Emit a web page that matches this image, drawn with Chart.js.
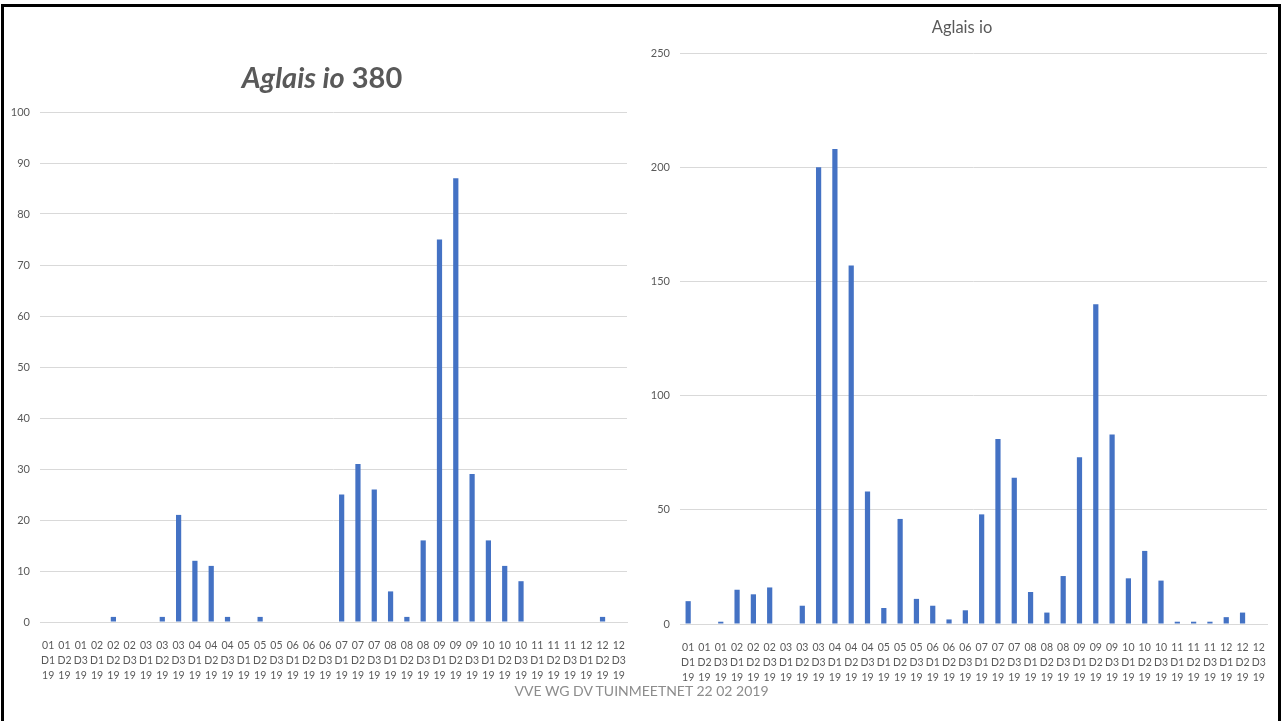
<!DOCTYPE html>
<html>
<head>
<meta charset="utf-8">
<script src="https://cdn.jsdelivr.net/npm/chart.js@4.4.1/dist/chart.umd.min.js"></script>
<style>
  body { margin: 0; background: #fff; font-family: Lato, "Open Sans", sans-serif; }
  #page { position: relative; width: 1283px; height: 721px; overflow: hidden; }
  #left { position: absolute; left: 0; top: 0; }
  #right { position: absolute; left: 640px; top: 0; }
  #frame { position: absolute; left: 1px; top: 4px; width: 1280px; height: 740px;
           border: 3px solid #000; box-sizing: border-box; pointer-events: none; }
  #title1 { position: absolute; left: 4px; width: 636px; top: 59px; text-align: center;
            font: bold 29px Lato, sans-serif; color: #595959; }
  #title2 { position: absolute; left: 640px; width: 644px; top: 17px; text-align: center;
            font: 16.5px Lato, sans-serif; color: #595959; }
  #footer { position: absolute; left: 0; width: 1283px; top: 682px; text-align: center;
            font: 14px Lato, sans-serif; color: #8c8c8c; }
</style>
</head>
<body>
<div id="page">
  <canvas id="left" width="640" height="721"></canvas>
  <canvas id="right" width="643" height="721"></canvas>
  <div id="title1"><i>Aglais io</i> 380</div>
  <div id="title2">Aglais io</div>
  <div id="footer">VVE WG DV TUINMEETNET 22 02 2019</div>
  <div id="frame"></div>
</div>
<script>
// periods: month + decade (D1..D3) + year
const months = ['01','02','03','04','05','06','07','08','09','10','11','12'];
const decades = ['D1','D2','D3'];
const year = '19';

// left chart: Aglais io 380
const counts380 = [0,0,0, 0,1,0, 0,1,21, 12,11,1, 0,1,0, 0,0,0,
                   25,31,26, 6,1,16, 75,87,29, 16,11,8, 0,0,0, 0,1,0];
// right chart: Aglais io
const countsIo = [10,0,1, 15,13,16, 0,8,200, 208,157,58, 7,46,11, 8,2,6,
                  48,81,64, 14,5,21, 73,140,83, 20,32,19, 1,1,1, 3,5,0];

const labels = months.flatMap(m => decades.map(d => [m, d, year]));

const grey = '#595959';
const barBlue = '#4472C4';

function makeChart(id, data, max, step, padding) {
  return new Chart(id, {
    type: 'bar',
    data: {
      labels: labels,
      datasets: [{
        data: data,
        backgroundColor: barBlue,
        borderWidth: 0,
        categoryPercentage: 1,
        barPercentage: 0.32
      }]
    },
    options: {
      responsive: false,
      animation: false,
      devicePixelRatio: 1,
      layout: { padding: padding },
      plugins: {
        legend: { display: false },
        tooltip: { enabled: false },
        title: { display: false }
      },
      scales: {
        x: {
          grid: { display: false },
          border: { color: '#d9d9d9' },
          ticks: {
            color: grey, autoSkip: false, maxRotation: 0, padding: 8,
            font: { family: 'Lato', size: 10.5, lineHeight: 1.42 }
          },
          afterFit: s => { s.height = 60; }
        },
        y: {
          min: 0, max: max,
          border: { display: false },
          grid: { color: '#d9d9d9', drawTicks: false },
          ticks: {
            stepSize: step, color: grey, padding: 10,
            font: { family: 'Lato', size: 11 }
          },
          afterFit: s => { s.width = 40; }
        }
      }
    }
  });
}

makeChart('left', counts380, 100, 10, { top: 112, right: 13, bottom: 39, left: 0 });
makeChart('right', countsIo, 250, 50, { top: 53, right: 16, bottom: 37, left: 0 });
</script>
</body>
</html>
